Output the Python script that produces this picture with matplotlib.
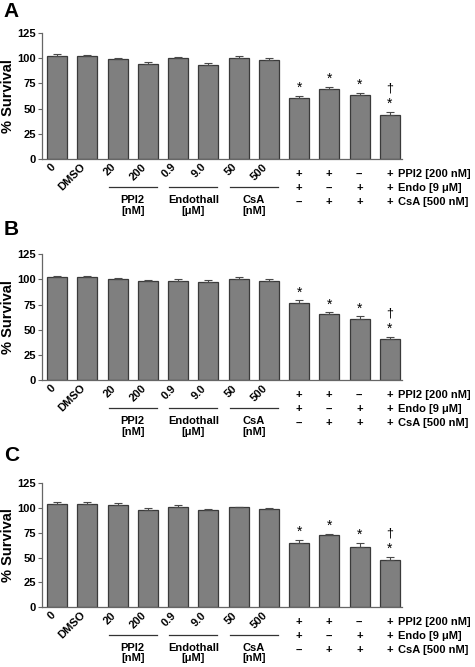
import numpy as np
import matplotlib.pyplot as plt

plt.rcParams['font.family'] = ['Liberation Sans', 'DejaVu Sans']

# tick labels for the single-agent bars
dose_labels = ["0", "DMSO", "20", "200", "0.9", "9.0", "50", "500"]
groups = [("PPI2\n[nM]", 2), ("Endothall\n[\u03bcM]", 4), ("CsA\n[nM]", 6)]

# combination table (+ / --) for the last four bars
ppi2_row = ["+", "+", "--", "+"]
endo_row = ["+", "--", "+", "+"]
csa_row = ["--", "+", "+", "+"]
row_names = ["PPI2 [200 nM]", "Endo [9 \u03bcM]", "CsA [500 nM]"]

# % survival, panel A / B / C
surv_a = [102, 102.6, 98.7, 94, 99.7, 93, 100, 97.7, 60.2, 69, 63.5, 43.8]
err_a = [2, 1, 1.5, 2, 1.5, 2.5, 2.5, 2, 2.5, 2.5, 2, 3]
surv_b = [102.8, 102.2, 100.5, 98.5, 98.5, 97.5, 100.5, 98.9, 76.7, 65.8, 60.5, 41]
err_b = [1, 0.8, 0.8, 1.3, 1.5, 2, 1.5, 1.3, 2.5, 1.5, 2.8, 2.3]
surv_c = [103.8, 103.8, 103.2, 97.8, 100.8, 97.8, 100.8, 98.8, 65.2, 72.6, 61.2, 48]
err_c = [2, 2.5, 2, 2, 2.5, 1.5, 0.7, 1.5, 3, 1.5, 3.5, 3]

# significance marks
star_bars = [8, 9, 10, 11]
dagger_bars = [11]

panels = [("A", surv_a, err_a, 0.7616, 0.189),
          ("B", surv_b, err_b, 0.4298, 0.189),
          ("C", surv_c, err_c, 0.0895, 0.186)]
letter_y = [0.997, 0.670, 0.332]

fig = plt.figure(figsize=(4.75, 6.67), dpi=100)

for (letter, surv, err, bottom, height), ly in zip(panels, letter_y):
    ax = fig.add_axes([0.088, bottom, 0.758, height])
    x = np.arange(len(surv))
    ax.bar(x, surv, width=0.66, color="#7f7f7f", edgecolor="#3a3a3a", linewidth=0.9, zorder=2)
    ax.errorbar(x, surv, yerr=[np.zeros(len(err)), err], fmt="none",
                ecolor="#4a4a4a", elinewidth=0.8, capsize=3, capthick=0.8, zorder=3)
    ax.set_xlim(-0.51, 11.4)
    ax.set_ylim(0, 125)
    ax.set_yticks([0, 25, 50, 75, 100, 125])
    for s in ["top", "right"]:
        ax.spines[s].set_visible(False)
    for s in ["left", "bottom"]:
        ax.spines[s].set_color("#666666")
        ax.spines[s].set_linewidth(0.9)
    ax.tick_params(axis="y", length=3, width=0.8, color="#666666", labelsize=8, pad=1)
    for t in ax.get_yticklabels():
        t.set_fontweight("bold")
    ax.set_xticks(np.arange(len(dose_labels)))
    ax.set_xticklabels(dose_labels, rotation=45, ha="right", fontsize=8, fontweight="bold")
    ax.tick_params(axis="x", length=0, pad=2)
    ax.set_ylabel("% Survival", fontsize=10.5, fontweight="bold", labelpad=2)

    tr = ax.get_xaxis_transform()
    for name, i in groups:
        ax.plot([i - 0.3, i + 1.3], [-0.222, -0.222], transform=tr, color="#333333",
                lw=0.9, clip_on=False)
        ax.text(i + 0.5, -0.285, name, transform=tr, ha="center", va="top",
                fontsize=8, fontweight="bold", linespacing=1.1)

    rows = [ppi2_row, endo_row, csa_row]
    for r, (row, ry) in enumerate(zip(rows, [-0.119, -0.23, -0.341])):
        for k, sym in enumerate(row):
            ax.text(8 + k, ry, sym, transform=tr, ha="center", va="center",
                    fontsize=8, fontweight="bold")
        ax.text(11.27, ry, row_names[r], transform=tr, ha="left", va="center",
                fontsize=8, fontweight="bold")

    for i in star_bars:
        ax.text(i, surv[i] + err[i] + 1, "*", ha="center", va="bottom", fontsize=10)
    for i in dagger_bars:
        ax.text(i, surv[i] + err[i] + 17, "\u2020", ha="center", va="bottom", fontsize=9)

    fig.text(0.008, ly, letter, ha="left", va="top", fontsize=15, fontweight="bold")

fig.savefig("out.png", dpi=100)
